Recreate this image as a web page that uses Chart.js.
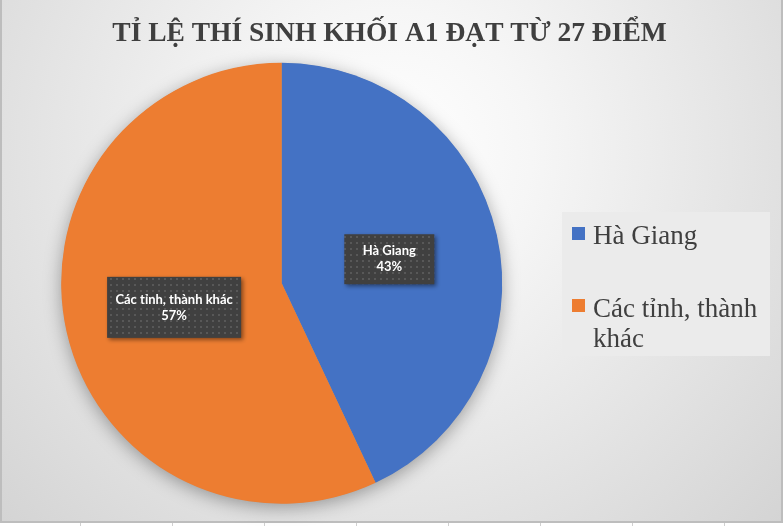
<!DOCTYPE html>
<html>
<head>
<meta charset="utf-8">
<script src="https://cdn.jsdelivr.net/npm/chart.js@4.4.1/dist/chart.umd.min.js"></script>
<style>
  html, body { margin: 0; padding: 0; background: #fff; }
  #wrap { position: relative; width: 784px; height: 526px; }
  canvas { display: block; }
</style>
</head>
<body>
<div id="wrap"><canvas id="c" width="784" height="526"></canvas></div>
<script>
// ---- data ----
const chartTitle = 'TỈ LỆ THÍ SINH KHỐI A1 ĐẠT TỪ 27 ĐIỂM';
const categories = ['Hà Giang', 'Các tỉnh, thành khác'];
const values = [43, 57];
const colors = ['#4472C4', '#ED7D31'];

// dotted pattern for label boxes
function makePattern(ctx) {
  const t = document.createElement('canvas');
  t.width = 6; t.height = 6;
  const g = t.getContext('2d');
  g.fillStyle = '#404040';
  g.fillRect(0, 0, 6, 6);
  g.fillStyle = '#585858';
  g.fillRect(2, 2, 2, 2);
  return ctx.createPattern(t, 'repeat');
}

const frame = {
  id: 'frame',
  beforeDraw(chart) {
    const ctx = chart.ctx;
    ctx.save();
    ctx.fillStyle = '#ffffff';
    ctx.fillRect(0, 0, 784, 526);
    const g = ctx.createRadialGradient(392, 150, 0, 392, 150, 560);
    g.addColorStop(0, '#ffffff');
    g.addColorStop(0.25, '#f6f6f6');
    g.addColorStop(1, '#d2d2d2');
    ctx.fillStyle = g;
    ctx.fillRect(0, 0, 782, 521);
    ctx.strokeStyle = '#bdbdbd';
    ctx.lineWidth = 2;
    ctx.beginPath();
    ctx.moveTo(1, 0); ctx.lineTo(1, 522); ctx.lineTo(782, 522); ctx.lineTo(782, 0);
    ctx.stroke();
    // spreadsheet cell lines below
    ctx.strokeStyle = '#d0d0d0';
    ctx.lineWidth = 1;
    [80.5, 172.5, 264.5, 356.5, 448.5, 540.5, 632.5, 724.5].forEach(x => {
      ctx.beginPath(); ctx.moveTo(x, 523); ctx.lineTo(x, 526); ctx.stroke();
    });
    // title
    ctx.fillStyle = '#3f3f3f';
    ctx.font = 'bold 27.5px "Liberation Serif", "DejaVu Serif", serif';
    ctx.textAlign = 'center';
    ctx.textBaseline = 'alphabetic';
    ctx.fillText(chartTitle, 389.5, 41);
    // legend
    ctx.fillStyle = '#ebebeb';
    ctx.fillRect(562, 212, 208, 144);
    ctx.font = '27px "Liberation Serif", "DejaVu Serif", serif';
    ctx.textAlign = 'left';
    const items = [{y: 227, base: 243.5}, {y: 299, base: 317}];
    categories.forEach((cat, i) => {
      ctx.fillStyle = colors[i];
      ctx.fillRect(572, items[i].y, 13, 13);
      ctx.fillStyle = '#3f3f3f';
      const words = cat.split(' ');
      const lines = [];
      let cur = '';
      words.forEach(w => {
        const test = cur ? cur + ' ' + w : w;
        if (ctx.measureText(test).width > 172 && cur) { lines.push(cur); cur = w; }
        else cur = test;
      });
      lines.push(cur);
      lines.forEach((ln, k) => ctx.fillText(ln, 593, items[i].base + k * 30));
    });
    ctx.restore();
  },
  beforeDatasetsDraw(chart) {
    const arc = chart.getDatasetMeta(0).data[0];
    if (!arc) return;
    const ctx = chart.ctx;
    ctx.save();
    ctx.shadowColor = 'rgba(0,0,0,0.35)';
    ctx.shadowBlur = 18;
    ctx.shadowOffsetY = 4;
    ctx.fillStyle = '#999';
    ctx.beginPath();
    ctx.arc(arc.x, arc.y, arc.outerRadius - 0.5, 0, Math.PI * 2);
    ctx.fill();
    ctx.restore();
  },
  afterDatasetsDraw(chart, args, opts) {
    const ctx = chart.ctx;
    const meta = chart.getDatasetMeta(0);
    const total = values.reduce((a, b) => a + b, 0);
    const pat = makePattern(ctx);
    meta.data.forEach((el, i) => {
      const p = el.tooltipPosition();
      const [w, h] = opts.boxes[i];
      const x = p.x - w / 2, y = p.y - h / 2;
      ctx.save();
      ctx.shadowColor = 'rgba(0,0,0,0.45)';
      ctx.shadowBlur = 4;
      ctx.shadowOffsetX = 2;
      ctx.shadowOffsetY = 2;
      ctx.fillStyle = pat;
      ctx.fillRect(x, y, w, h);
      ctx.restore();
      ctx.save();
      ctx.fillStyle = '#ffffff';
      ctx.font = 'bold 13px Lato, "Open Sans", sans-serif';
      ctx.textAlign = 'center';
      ctx.textBaseline = 'middle';
      const pct = Math.round(values[i] / total * 100) + '%';
      ctx.fillText(categories[i], p.x, p.y - 8 + opts.dy[i]);
      ctx.fillText(pct, p.x, p.y + 8 + opts.dy[i]);
      ctx.restore();
    });
  }
};

new Chart(document.getElementById('c'), {
  type: 'pie',
  data: {
    labels: categories,
    datasets: [{
      data: values,
      backgroundColor: colors,
      borderWidth: 0,
      hoverOffset: 0
    }]
  },
  options: {
    responsive: false,
    animation: false,
    events: [],
    layout: { padding: { left: 61.2, right: 281.8, top: 62.8, bottom: 22.2 } },
    plugins: {
      legend: { display: false },
      title: { display: false },
      tooltip: { enabled: false },
      frame: { boxes: [[90, 50], [134, 61]], dy: [0, 0] }
    }
  },
  plugins: [frame]
});
</script>
</body>
</html>
